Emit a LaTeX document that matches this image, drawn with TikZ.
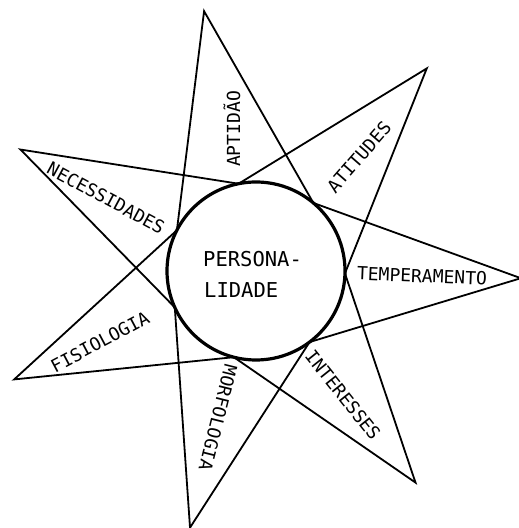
\documentclass[tikz,border=0pt]{standalone}
\usepackage{fontspec}
\newfontfamily\monofont{DejaVu Sans Mono}
\begin{document}
\begin{tikzpicture}[x=1pt,y=1pt,
  starline/.style={line width=1.8pt, line join=miter},
  ring/.style={line width=3.2pt, fill=white},
  lbl/.style={font=\monofont\fontsize{18}{20}\selectfont, inner sep=0pt},
  ctr/.style={font=\monofont\fontsize{20.5}{24}\selectfont, inner sep=0pt, anchor=base west}]
\useasboundingbox (0,0) rectangle (519,528);
\coordinate (C) at (256,257);
\foreach \k in {0,...,6} {
  \path (C) ++({101.3-51.43*\k}:265) coordinate (t\k);
  \path (C) ++({101.3-51.43*\k}:89) coordinate (p\k);
}
\draw[starline] (t0)--(p1)--(t2)--(p3)--(t4)--(p5)--(t6)--(p0)--(t1)--(p2)--(t3)--(p4)--(t5)--(p6)--cycle;
\draw[ring] (C) circle (89);
\node[ctr] (pers) at (203,261) {PERSONA-};
\node[ctr] (lid) at (204,230) {LIDADE};
\node[lbl, rotate=90] (apt) at (232,399) {APTIDÃO};
\node[lbl, rotate=49] (ati) at (359,371) {ATITUDES};
\node[lbl, rotate=-2.3] (tem) at (422,252) {TEMPERAMENTO};
\node[lbl, rotate=-51.4] (int) at (343,133) {INTERESSES};
\node[lbl, rotate=-104] (mor) at (218,110) {MORFOLOGIA};
\node[lbl, rotate=28] (fis) at (100,186) {FISIOLOGIA};
\node[lbl, rotate=-28.3] (nec) at (106,330) {NECESSIDADES};
\end{tikzpicture}
\end{document}
